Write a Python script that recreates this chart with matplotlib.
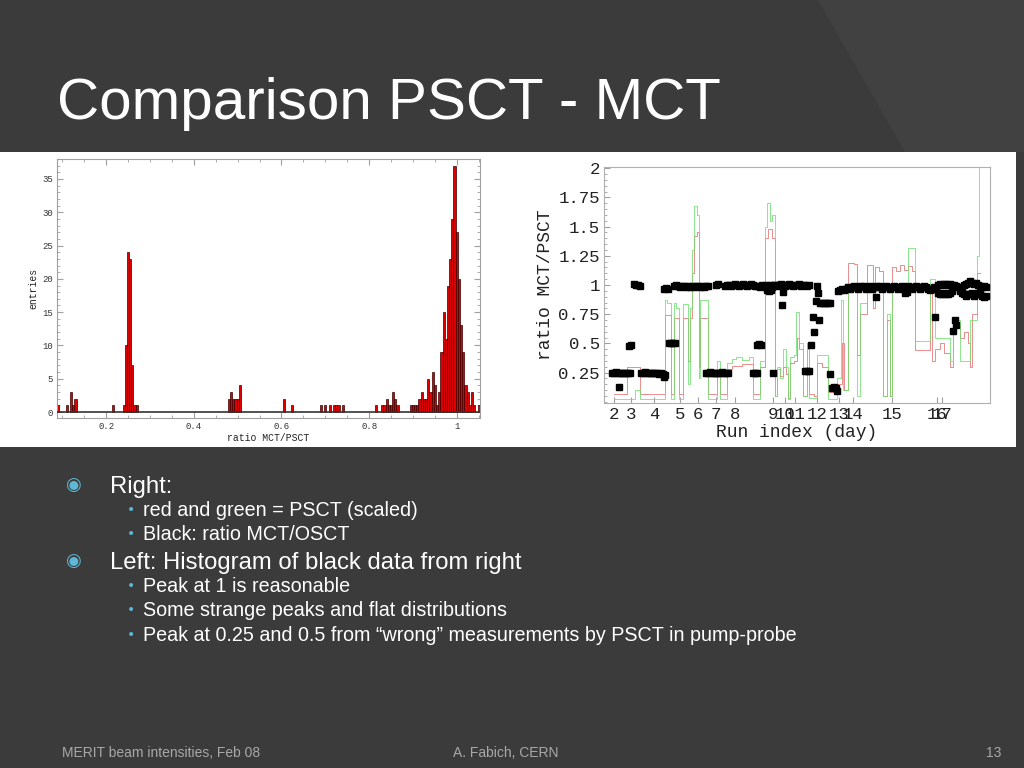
import matplotlib
matplotlib.use('Agg')
import matplotlib.pyplot as plt
from matplotlib.patches import Rectangle, Polygon
from matplotlib.ticker import MultipleLocator

# ---------------- data: histogram (left) ----------------
hist_centers = [0.09, 0.11, 0.12, 0.125, 0.13, 0.215, 0.24, 0.245, 0.25, 0.255, 0.26, 0.265, 0.27,
                0.48, 0.485, 0.49, 0.495, 0.50, 0.505, 0.605, 0.625,
                0.69, 0.70, 0.71, 0.72, 0.725, 0.73, 0.74,
                0.815, 0.83, 0.835, 0.84, 0.845, 0.85, 0.855, 0.86, 0.865,
                0.895, 0.90, 0.905, 0.91, 0.915, 0.92, 0.925, 0.93, 0.935, 0.94, 0.945, 0.95, 0.955,
                0.96, 0.965, 0.97, 0.975, 0.98, 0.985, 0.99, 0.995, 1.00, 1.005, 1.01, 1.015, 1.02,
                1.025, 1.03, 1.035, 1.04, 1.05]
hist_counts = [1, 1, 3, 1, 2, 1, 1, 10, 24, 23, 7, 1, 1,
               2, 3, 2, 2, 2, 4, 2, 1,
               1, 1, 1, 1, 1, 1, 1,
               1, 1, 1, 2, 1, 1, 3, 2, 1,
               1, 1, 1, 1, 2, 3, 2, 2, 5, 3, 6, 4, 1,
               3, 9, 15, 11, 19, 23, 29, 37, 27, 20, 13, 9, 4,
               3, 1, 3, 1, 1]
hist_xticks = [0.2, 0.4, 0.6, 0.8, 1.0]
hist_xticklabels = ['0.2', '0.4', '0.6', '0.8', '1']
hist_yticks = [0, 5, 10, 15, 20, 25, 30, 35]

# ---------------- data: ratio vs run index (right) ----------------
day_ticks = [10, 27, 50, 76, 94, 112, 131, 169, 181, 191, 213, 235, 249, 288, 333, 338]
day_labels = ['2', '3', '4', '5', '6', '7', '8', '9', '10', '11', '12', '13', '14', '15', '16', '17']
ratio_yticks = [0.25, 0.5, 0.75, 1.0, 1.25, 1.5, 1.75, 2.0]
ratio_yticklabels = ['0.25', '0.5', '0.75', '1', '1.25', '1.5', '1.75', '2']

black_run = [8, 10, 12, 14, 16, 18, 20, 22, 24, 26, 15,
             25, 27,
             30, 32, 34, 36,
             37, 39, 41, 43, 45, 47, 49, 51, 53, 55, 57, 59, 61, 60,
             60, 62, 64,
             65, 67, 69, 71,
             70, 72, 74, 76, 78, 80, 82, 84, 86, 88, 90, 92, 94, 96, 98, 100, 102, 104,
             102, 104, 106, 108, 110, 112, 114, 116, 118, 120, 122, 124,
             112, 114,
             121, 123, 125, 127, 129, 131, 133, 135, 137, 139, 141, 143, 145, 147, 149, 151, 153,
             149, 151, 153,
             153, 155, 157,
             156, 158, 160, 162, 164, 166, 168, 170, 163, 165, 167,
             169,
             171, 173, 175, 177, 179, 181, 183, 185, 187, 189, 191, 178, 179,
             193, 195, 197, 199, 201, 203, 205,
             201, 203, 205,
             207, 209, 210, 212, 213, 214, 215,
             216, 218, 220, 222, 224, 226,
             226,
             228, 230, 232, 233,
             234, 236, 238, 240, 242, 244, 246, 248, 250, 252, 254, 256, 258, 260, 262, 264,
             266, 268, 270, 272, 274, 276, 278, 280, 282, 284, 286, 288, 290, 292, 294, 296,
             298, 300, 302, 304, 306, 308, 310, 312, 314, 316, 318, 320, 322, 324, 326, 328,
             330, 332,
             272, 301, 303, 331,
             334, 336, 338, 340, 342, 344, 346, 348, 350, 352, 354, 356, 358, 360, 362, 364,
             366, 368, 370, 372, 374, 376, 378, 380, 382,
             334, 336, 338, 340, 342, 344, 346, 348, 356, 358, 360, 362, 364, 366, 368, 370,
             372, 374, 376, 378, 380, 382,
             349, 351, 352]
black_val = [0.25, 0.25, 0.255, 0.25, 0.25, 0.245, 0.25, 0.25, 0.245, 0.25, 0.13,
             0.48, 0.49,
             1.01, 1.0, 1.0, 0.99,
             0.25, 0.25, 0.255, 0.25, 0.25, 0.25, 0.245, 0.25, 0.245, 0.24, 0.245, 0.235, 0.23, 0.21,
             0.97, 0.975, 0.97,
             0.5, 0.505, 0.5, 0.5,
             0.99, 1.0, 0.99, 0.985, 0.99, 0.995, 0.98, 0.99, 0.985, 0.99, 0.98, 0.995, 0.99, 0.985,
             0.99, 0.985, 0.99, 0.99,
             0.25, 0.25, 0.255, 0.25, 0.25, 0.245, 0.25, 0.25, 0.255, 0.25, 0.25, 0.245,
             1.0, 1.005,
             0.99, 1.0, 1.0, 0.995, 1.0, 1.005, 1.0, 0.99, 1.0, 1.005, 1.0, 0.995, 1.0, 1.005, 1.0,
             0.99, 0.995,
             0.25, 0.25, 0.25,
             0.49, 0.495, 0.49,
             0.98, 1.0, 0.99, 1.0, 0.99, 1.0, 0.98, 1.0, 0.96, 0.95, 0.96,
             0.25,
             1.0, 0.99, 1.0, 1.005, 1.0, 0.99, 1.0, 1.005, 1.0, 0.995, 1.0, 0.83, 0.94,
             1.0, 1.005, 0.995, 1.0, 1.0, 0.995, 1.0,
             0.26, 0.26, 0.26,
             0.49, 0.73, 0.60, 0.86, 0.99, 0.93, 0.70,
             0.85, 0.85, 0.845, 0.85, 0.85, 0.85,
             0.24,
             0.12, 0.125, 0.12, 0.09,
             0.95, 0.96, 0.97, 0.96, 0.97, 0.98, 0.97, 0.98, 0.99, 0.98, 0.97, 0.99, 0.98, 0.99,
             0.97, 0.98, 0.99, 0.97, 0.98, 0.99, 0.98, 0.99, 0.97, 0.98, 0.99, 0.98, 0.97, 0.98,
             0.99, 0.98, 0.97, 0.98, 0.99, 0.97, 0.98, 0.99, 0.98, 0.97, 0.98, 0.99, 0.98, 0.97,
             0.98, 0.99, 0.98, 0.97, 0.96, 0.97, 0.98, 0.97,
             0.90, 0.93, 0.94, 0.73,
             1.0, 1.01, 1.0, 1.01, 1.01, 1.0, 1.01, 1.0, 1.0, 0.99, 0.98, 0.97, 0.98, 1.0, 1.01,
             1.02, 1.03, 1.02, 1.01, 1.02, 1.0, 0.99, 0.98, 0.99, 0.98,
             0.93, 0.92, 0.92, 0.93, 0.92, 0.92, 0.93, 0.95, 0.95, 0.93, 0.92, 0.91, 0.92, 0.92,
             0.93, 0.91, 0.92, 0.93, 0.92, 0.91, 0.90, 0.91,
             0.61, 0.70, 0.66]

red_run = [10, 23, 36, 61, 67, 70, 75, 79, 84, 86, 88, 90, 93, 95, 96, 104, 113, 116, 123, 128,
           138, 149, 156, 161, 164, 168, 171, 173, 176, 179, 182, 184, 186, 190, 193, 195, 199,
           203, 205, 210, 213, 218, 224, 233, 238, 240, 244, 250, 253, 256, 263, 269, 271, 275,
           279, 283, 286, 288, 292, 296, 300, 304, 308, 311, 326, 328, 331, 336, 340, 346, 349,
           356, 360, 364, 366, 368, 373, 376]
red_val = [0.07, 0.30, 0.07, 0.74, 0.07, 0.72, 0.07, 0.72, 0.35, 0.72, 1.10, 1.42, 1.45, 0.30,
           0.72, 0.07, 0.25, 0.07, 0.28, 0.31, 0.32, 0.07, 0.30, 1.40, 1.48, 1.40, 0.05, 0.28,
           0.22, 0.30, 0.24, 0.03, 0.33, 0.35, 0.55, 0.45, 0.05, 0.45, 0.07, 0.05, 0.33, 0.30,
           0.08, 0.15, 0.50, 0.10, 1.19, 1.18, 0.40, 0.75, 1.17, 0.80, 1.15, 1.12, 0.05, 0.70,
           0.05, 1.15, 1.12, 1.17, 1.13, 1.16, 1.12, 0.44, 0.95, 0.35, 0.45, 0.50, 0.42, 0.30,
           0.65, 0.55, 0.60, 0.50, 0.30, 0.75, 1.10, 1.10]

green_run = [10, 31, 36, 61, 63, 67, 70, 72, 75, 79, 84, 86, 88, 90, 93, 95, 96, 104, 113, 116,
             123, 128, 132, 138, 145, 149, 156, 161, 163, 166, 168, 171, 173, 176, 179, 182, 184,
             186, 190, 192, 195, 199, 203, 205, 213, 224, 233, 237, 239, 244, 250, 253, 256, 263,
             279, 283, 286, 288, 304, 311, 326, 331, 346, 349, 356, 366, 373, 375]
green_val = [0.02, 0.10, 0.02, 0.87, 0.85, 0.02, 0.85, 0.80, 0.02, 0.84, 0.15, 0.80, 1.30, 1.68,
             1.60, 0.20, 0.87, 0.02, 0.35, 0.02, 0.33, 0.37, 0.38, 0.36, 0.38, 0.02, 0.35, 1.50,
             1.70, 1.55, 1.60, 0.05, 0.30, 0.20, 0.45, 0.30, 0.02, 0.38, 0.40, 0.77, 0.50, 0.05,
             0.50, 0.03, 0.40, 0.02, 0.20, 0.87, 0.10, 0.95, 0.97, 0.05, 0.85, 0.97, 0.05, 0.75,
             0.05, 0.97, 1.32, 0.52, 1.05, 0.55, 0.35, 0.70, 0.35, 0.70, 1.25, 2.05]

# ---------------- slide text ----------------
title = "Comparison PSCT - MCT"
bullets = [
    (0, "Right:"),
    (1, "red and green = PSCT (scaled)"),
    (1, "Black: ratio MCT/OSCT"),
    (0, "Left: Histogram of black data from right"),
    (1, "Peak at 1 is reasonable"),
    (1, "Some strange peaks and flat distributions"),
    (1, "Peak at 0.25 and 0.5 from \u201cwrong\u201d measurements by PSCT in pump-probe"),
]
bullet_y = [485, 510, 534, 561, 586, 610, 635]
footer_left = "MERIT beam intensities, Feb 08"
footer_mid = "A. Fabich, CERN"
footer_right = "13"

W, H = 1024, 768
fig = plt.figure(figsize=(10.24, 7.68), dpi=100)
fig.patch.set_facecolor('#3b3b3b')

bg = fig.add_axes([0, 0, 1, 1])
bg.set_xlim(0, W)
bg.set_ylim(H, 0)
bg.axis('off')
bg.add_patch(Polygon([(818, 0), (1024, 0), (1024, 152), (905, 152)], closed=True,
                     facecolor='#414141', edgecolor='none'))
bg.add_patch(Rectangle((0, 152), 1016, 295, facecolor='white', edgecolor='none'))

sans = ['Liberation Sans', 'DejaVu Sans']
bg.text(57, 119, title, fontsize=42, color='white', family=sans, va='baseline', ha='left')

blue = '#5cb8d6'
for (lvl, txt), yc in zip(bullets, bullet_y):
    if lvl == 0:
        bg.text(73, yc, '\u25c9', fontsize=13, color=blue, family=['DejaVu Sans'],
                ha='center', va='center')
        bg.text(110, yc + 8, txt, fontsize=17.2, color='white', family=sans, va='baseline')
    else:
        bg.text(131, yc, '\u2022', fontsize=10, color=blue, family=['DejaVu Sans'],
                ha='center', va='center')
        bg.text(143, yc + 6, txt, fontsize=14.2, color='white', family=sans, va='baseline')

fcol = '#a8a8a8'
bg.text(62, 757, footer_left, fontsize=10, color=fcol, family=sans, va='baseline')
bg.text(506, 757, footer_mid, fontsize=10, color=fcol, family=sans, va='baseline', ha='center')
bg.text(1001, 757, footer_right, fontsize=10, color=fcol, family=sans, va='baseline', ha='right')

mono = ['Liberation Mono', 'DejaVu Sans Mono']

# ---------------- left: histogram ----------------
ax1 = fig.add_axes([57 / W, 1 - 418 / H, (480 - 57) / W, (418 - 159) / H])
ax1.bar(hist_centers, hist_counts, width=0.005, color='#dd0000', edgecolor='#3a0000',
        linewidth=0.5, zorder=2)
ax1.axhline(0, color='#333333', lw=1.2, zorder=3)
ax1.set_xlim(0.088, 1.053)
ax1.set_ylim(-0.9, 38)
ax1.set_xticks(hist_xticks)
ax1.set_xticklabels(hist_xticklabels)
ax1.set_yticks(hist_yticks)
ax1.xaxis.set_minor_locator(MultipleLocator(0.05))
ax1.yaxis.set_minor_locator(MultipleLocator(1))
for s in ax1.spines.values():
    s.set_color('#a0a0a0')
    s.set_linewidth(0.8)
ax1.tick_params(which='both', direction='in', color='#a0a0a0', top=True, right=True,
                labelsize=6.5, labelcolor='#333333', pad=3)
ax1.tick_params(which='major', length=4)
ax1.tick_params(which='minor', length=2)
for lab in ax1.get_xticklabels() + ax1.get_yticklabels():
    lab.set_family(mono)
ax1.set_xlabel('ratio MCT/PSCT', fontsize=7, family=mono, color='#222222', labelpad=1)
ax1.set_ylabel('entries', fontsize=7, family=mono, color='#222222', labelpad=3)

# ---------------- right: ratio vs run ----------------
ax2 = fig.add_axes([604 / W, 1 - 403 / H, (990 - 604) / W, (403 - 167) / H])
ax2.plot(red_run, red_val, drawstyle='steps-post', color='#e57a7a', lw=0.7, alpha=0.85, zorder=2)
ax2.plot(green_run, green_val, drawstyle='steps-post', color='#6ee06e', lw=0.7, alpha=0.8, zorder=2)
ax2.plot(black_run, black_val, 's', color='black', markersize=4.3, zorder=3)
ax2.set_xlim(0, 386)
ax2.set_ylim(-0.01, 2.01)
ax2.set_xticks(day_ticks)
ax2.set_xticklabels(day_labels)
ax2.set_yticks(ratio_yticks)
ax2.set_yticklabels(ratio_yticklabels)
ax2.yaxis.set_minor_locator(MultipleLocator(0.05))
for s in ax2.spines.values():
    s.set_color('#b0b0b0')
    s.set_linewidth(0.8)
ax2.tick_params(which='both', direction='in', color='#a0a0a0', labelsize=12.5,
                labelcolor='#222222')
ax2.tick_params(which='major', length=4, pad=3)
ax2.tick_params(which='minor', length=2)
for lab in ax2.get_xticklabels() + ax2.get_yticklabels():
    lab.set_family(mono)
ax2.set_xlabel('Run index (day)', fontsize=13, family=mono, color='#222222', labelpad=1)
ax2.set_ylabel('ratio MCT/PSCT', fontsize=13, family=mono, color='#222222', labelpad=3)

fig.savefig('out.png', dpi=100, facecolor=fig.get_facecolor())
